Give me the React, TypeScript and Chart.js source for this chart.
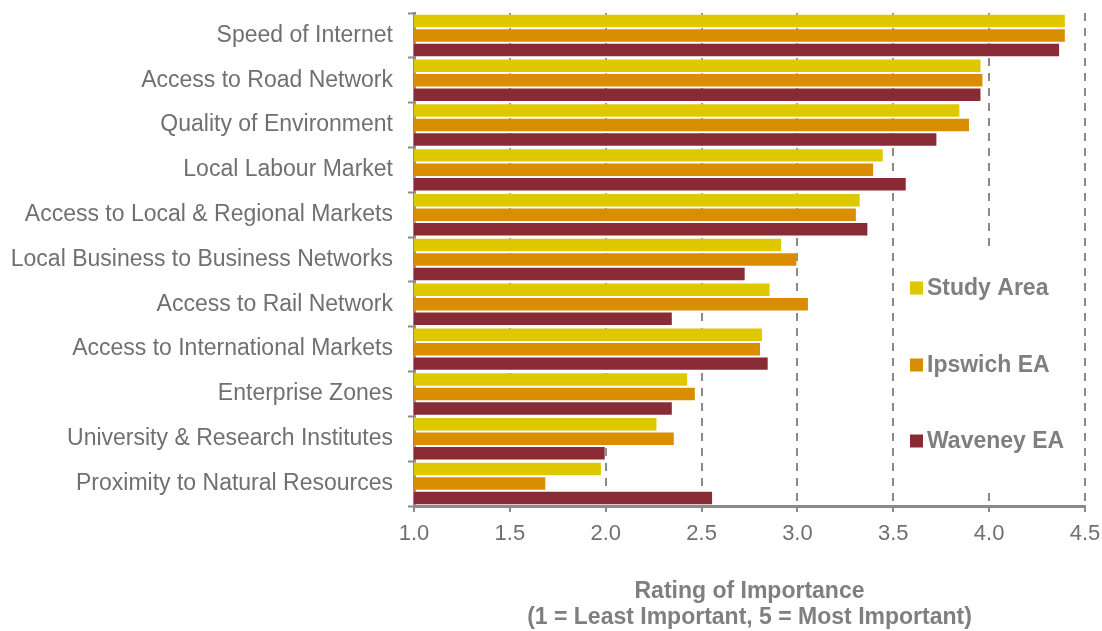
import React, { useEffect, useRef } from "react";
import { Chart, registerables } from "chart.js";

Chart.register(...registerables);

const categories = [
  "Speed of Internet",
  "Access to Road Network",
  "Quality of Environment",
  "Local Labour Market",
  "Access to Local & Regional Markets",
  "Local Business to Business Networks",
  "Access to Rail Network",
  "Access to International Markets",
  "Enterprise Zones",
  "University & Research Institutes",
  "Proximity to Natural Resources",
];

const studyArea = [4.4, 3.96, 3.85, 3.45, 3.33, 2.92, 2.86, 2.82, 2.43, 2.27, 1.98];
const ipswichEA = [4.4, 3.97, 3.9, 3.4, 3.31, 3.0, 3.06, 2.81, 2.47, 2.36, 1.69];
const waveneyEA = [4.37, 3.96, 3.73, 3.57, 3.37, 2.73, 2.35, 2.85, 2.35, 2.0, 2.56];

const seriesNames = ["Study Area", "Ipswich EA", "Waveney EA"];
const seriesColors = ["#DFC800", "#D88E00", "#882B35"];

const axisTitle = ["Rating of Importance", "(1 = Least Important, 5 = Most Important)"];
const xMin = 1.0;
const xMax = 4.5;
const xStep = 0.5;

const FONT = "'Liberation Sans', Arial, sans-serif";

const legendPlugin = {
  id: "boxLegend",
  afterDraw(chart: any) {
    const ctx = chart.ctx;
    const ca = chart.chartArea;
    const left = ca.right - 185;
    const top = 250;
    ctx.save();
    ctx.fillStyle = "#FFFFFF";
    ctx.fillRect(left, top, 182, 236);
    const ys = [288, 365, 441];
    ctx.font = `bold 23px ${FONT}`;
    ctx.textBaseline = "middle";
    ctx.textAlign = "left";
    chart.data.datasets.forEach((ds: any, i: number) => {
      ctx.fillStyle = ds.backgroundColor;
      ctx.fillRect(left + 10, ys[i] - 6.5, 13, 13);
      ctx.fillStyle = "#7F7F7F";
      ctx.fillText(ds.label, left + 27, ys[i] + 1);
    });
    ctx.restore();
  },
};

export default function App() {
  const ref = useRef<HTMLCanvasElement>(null);
  useEffect(() => {
    if (!ref.current) return;
    const values = [studyArea, ipswichEA, waveneyEA];
    const chart = new Chart(ref.current, {
      type: "bar",
      data: {
        labels: categories,
        datasets: seriesNames.map((name, i) => ({
          label: name,
          data: values[i],
          backgroundColor: seriesColors[i],
          borderColor: "rgba(255,255,255,0.25)",
          borderWidth: 1,
          categoryPercentage: 0.97,
          barPercentage: 1,
        })),
      },
      options: {
        indexAxis: "y",
        animation: false,
        responsive: true,
        maintainAspectRatio: false,
        layout: { padding: { top: 13, right: 17, left: 0, bottom: 0 } },
        plugins: {
          legend: { display: false },
          tooltip: { enabled: false },
          title: { display: false },
        },
        scales: {
          x: {
            type: "linear",
            min: xMin,
            max: xMax,
            afterFit: (s: any) => {
              s.height = 125;
              s.paddingLeft = 0;
              s.paddingRight = 0;
            },
            ticks: {
              stepSize: xStep,
              callback: (v: any) => Number(v).toFixed(1),
              font: { family: FONT, size: 22 },
              color: "#707070",
              padding: 9,
            },
            grid: {
              color: "#8A8A8A",
              lineWidth: 2,
              tickLength: 6,
              tickColor: "#8A8A8A",
              tickWidth: 2,
            },
            border: { display: true, color: "#8A8A8A", width: 3, dash: [8, 7] },
            title: {
              display: true,
              text: axisTitle,
              color: "#7F7F7F",
              font: { family: FONT, size: 23, weight: "bold", lineHeight: "26px" },
              padding: { top: 0, bottom: 0 },
            },
          },
          y: {
            type: "category",
            z: 1,
            afterFit: (s: any) => {
              s.width = 414;
              s.paddingTop = 0;
              s.paddingBottom = 0;
            },
            ticks: {
              font: { family: FONT, size: 23 },
              color: "#707070",
              padding: 15,
            },
            grid: {
              display: true,
              drawOnChartArea: false,
              drawTicks: true,
              offset: true,
              tickLength: 6,
              tickColor: "#8A8A8A",
              tickWidth: 2,
            },
            border: { display: true, color: "#8A8A8A", width: 3 },
          },
        },
      } as any,
      plugins: [legendPlugin],
    });
    return () => chart.destroy();
  }, []);
  return (
    <div style={{ position: "fixed", left: 0, top: 0, width: 1102, height: 631, background: "#fff" }}>
      <canvas ref={ref} />
    </div>
  );
}
